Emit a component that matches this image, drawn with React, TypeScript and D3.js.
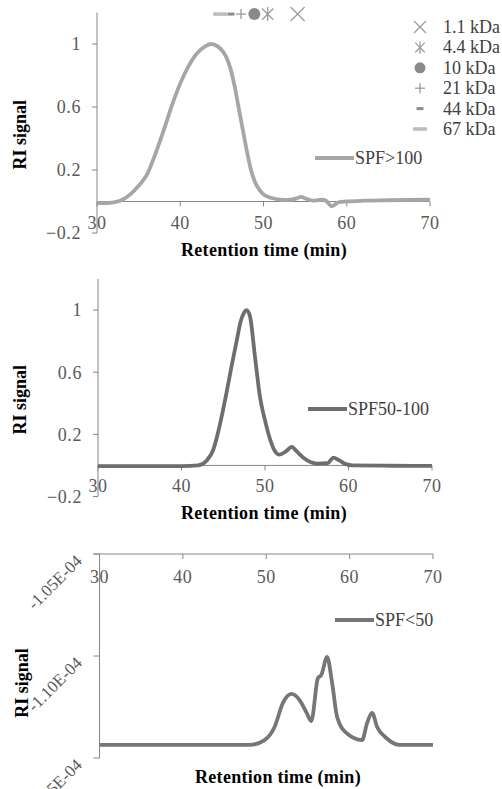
import React from "react";
import * as d3 from "d3";

// ---------- data ----------
const xTicks = [30, 40, 50, 60, 70];
const yTicksNorm = [-0.2, 0.2, 0.6, 1];
const yTicksSmall = [-1.05e-4, -1.1e-4, -1.15e-4];

const spf100Time = [30, 31, 32, 33, 34, 35, 36, 37, 38, 39, 40, 41, 42, 43, 43.7, 44.5, 45, 45.5, 46, 46.5, 47, 47.5, 48, 48.5, 49, 49.5, 50, 51, 52, 53, 54, 54.5, 55, 56, 57, 57.5, 58.2, 59, 60, 62, 65, 70];
const spf100Value = [-0.01, -0.01, -0.005, 0.01, 0.045, 0.1, 0.17, 0.3, 0.45, 0.61, 0.75, 0.86, 0.94, 0.985, 1.0, 0.985, 0.96, 0.92, 0.85, 0.74, 0.6, 0.46, 0.32, 0.2, 0.12, 0.075, 0.045, 0.022, 0.012, 0.01, 0.02, 0.03, 0.02, 0.005, 0.012, 0.005, -0.03, -0.005, 0.0, 0.005, 0.008, 0.012];

const spf50Time = [30, 35, 40, 42, 43, 43.8, 44.5, 45.4, 46, 46.6, 47.1, 47.5, 47.8, 48.2, 48.8, 49.4, 50, 50.6, 51.1, 51.7, 52.5, 53.2, 53.8, 54.6, 55.5, 56.2, 57.5, 58.2, 58.8, 59.6, 60.5, 65, 70];
const spf50Value = [-0.005, -0.005, -0.005, 0.0, 0.03, 0.1, 0.24, 0.47, 0.64, 0.8, 0.93, 0.985, 1.0, 0.96, 0.7, 0.44, 0.29, 0.17, 0.1, 0.07, 0.09, 0.12, 0.09, 0.05, 0.02, 0.012, 0.015, 0.05, 0.035, 0.01, 0.0, -0.002, -0.003];

const spfLowTime = [30, 40, 48, 49.8, 51, 52, 53, 54, 54.8, 55.4, 56.2, 56.6, 57.3, 57.9, 58.5, 59.6, 61.5, 62.1, 62.7, 63.3, 64.4, 66, 70];
const spfLowValue = [-1.1436e-4, -1.1436e-4, -1.1436e-4, -1.1412e-4, -1.1348e-4, -1.123e-4, -1.1186e-4, -1.1216e-4, -1.1275e-4, -1.1319e-4, -1.1108e-4, -1.1093e-4, -1.1005e-4, -1.1132e-4, -1.1299e-4, -1.1377e-4, -1.1412e-4, -1.1328e-4, -1.1279e-4, -1.1348e-4, -1.1402e-4, -1.1436e-4, -1.1436e-4];

const markerNames = ["1.1 kDa", "4.4 kDa", "10 kDa", "21 kDa", "44 kDa", "67 kDa"];
const markerTimes = [54.1, 50.5, 48.9, 47.3, 46.1, 44.8];
const markerLevel = 1.19;

const seriesNames = ["SPF>100", "SPF50-100", "SPF<50"];

// ---------- styles ----------
const FONT = "Liberation Serif";
const AXIS = "#868686";
const TICKTXT = "#595959";
const C1 = "#a6a6a6";
const C2 = "#6e6e6e";
const C3 = "#767676";
const TS = 18; // tick font size
const TLS = 0.6; // tick letter spacing

function fmtE(v: number) {
  const s = v.toExponential(2);
  const [m, e] = s.split("e");
  const n = parseInt(e, 10);
  const sign = n < 0 ? "-" : "+";
  const abs = Math.abs(n).toString().padStart(2, "0");
  return `${m}E${sign}${abs}`;
}

function Marker({ idx, x, y, legend }: { idx: number; x: number; y: number; legend?: boolean }) {
  const s = legend ? 6 : 7;
  switch (idx) {
    case 0:
      return (
        <g stroke="#9c9c9c" strokeWidth={1.3}>
          <line x1={x - s} y1={y - s} x2={x + s} y2={y + s} />
          <line x1={x - s} y1={y + s} x2={x + s} y2={y - s} />
        </g>
      );
    case 1:
      return (
        <g stroke="#9c9c9c" strokeWidth={1.3}>
          <line x1={x - s * 0.8} y1={y - s * 0.8} x2={x + s * 0.8} y2={y + s * 0.8} />
          <line x1={x - s * 0.8} y1={y + s * 0.8} x2={x + s * 0.8} y2={y - s * 0.8} />
          <line x1={x} y1={y - s} x2={x} y2={y + s} />
        </g>
      );
    case 2:
      return <circle cx={x} cy={y} r={legend ? 5.5 : 6} fill="#8a8a8a" />;
    case 3:
      return (
        <g stroke="#9a9a9a" strokeWidth={1.3}>
          <line x1={x - 5} y1={y} x2={x + 5} y2={y} />
          <line x1={x} y1={y - 5} x2={x} y2={y + 5} />
        </g>
      );
    case 4:
      return <rect x={x - 3.5} y={y - 1.5} width={7} height={3} fill="#8c8c8c" />;
    default:
      return <rect x={x - 7} y={y - 1.8} width={14} height={3.6} fill="#bdbdbd" />;
  }
}

function NormPanel({
  time, value, color, name, x0, x1, yBottom, yTop, titleY, legendX, legendY, showMarkers,
}: any) {
  const x = d3.scaleLinear().domain([30, 70]).range([x0, x1]);
  const y = d3.scaleLinear().domain([-0.2, 1.2]).range([yBottom, yTop]);
  const line = d3.line<number>().x((_, i) => x(time[i])).y((d) => y(d)).curve(d3.curveMonotoneX);
  const y0 = y(0);
  return (
    <g>
      <line x1={x0} x2={x0} y1={yTop} y2={yBottom} stroke={AXIS} />
      {yTicksNorm.map((t) => (
        <g key={t}>
          <line x1={x0 - 5} x2={x0} y1={y(t)} y2={y(t)} stroke={AXIS} />
          <text x={x0 - 16} y={y(t)} dy="0.35em" textAnchor="end" fontSize={TS} letterSpacing={TLS} fill={TICKTXT} style={{ fontFamily: FONT }}>
            {d3.format("")(t)}
          </text>
        </g>
      ))}
      <line x1={x0} x2={x1} y1={y0} y2={y0} stroke={AXIS} />
      {xTicks.map((t) => (
        <g key={t}>
          <line x1={x(t)} x2={x(t)} y1={y0} y2={y0 + 5} stroke={AXIS} />
          <text x={x(t)} y={y0 + 27} textAnchor="middle" fontSize={TS} letterSpacing={TLS} fill={TICKTXT} style={{ fontFamily: FONT }}>
            {t}
          </text>
        </g>
      ))}
      <text x={264} y={titleY} textAnchor="middle" fontSize={18} letterSpacing={0.3} fontWeight="bold" style={{ fontFamily: FONT }} fill="#000">
        Retention time (min)
      </text>
      <text transform={`translate(26, ${(yTop + yBottom) / 2 + 12}) rotate(-90)`} textAnchor="middle" fontSize={18} fontWeight="bold" style={{ fontFamily: FONT }} fill="#000">
        RI signal
      </text>
      <path d={line(value) || ""} fill="none" stroke={color} strokeWidth={3.8} strokeLinejoin="round" />
      <line x1={legendX} x2={legendX + 39} y1={legendY} y2={legendY} stroke={color} strokeWidth={3.8} />
      <text x={legendX + 40} y={legendY + 6} fontSize={18} fill="#404040" style={{ fontFamily: FONT }}>
        {name}
      </text>
      {showMarkers &&
        markerTimes.map((t, i) => <Marker key={i} idx={i} x={x(t)} y={y(markerLevel)} />)}
    </g>
  );
}

function LowPanel() {
  const x0 = 99.5, x1 = 433, yTop = 554, yBottom = 758;
  const x = d3.scaleLinear().domain([30, 70]).range([x0, x1]);
  const y = d3.scaleLinear().domain([-1.15e-4, -1.05e-4]).range([yBottom, yTop]);
  const line = d3.line<number>().x((_, i) => x(spfLowTime[i])).y((d) => y(d)).curve(d3.curveMonotoneX);
  return (
    <g>
      <line x1={x0} x2={x0} y1={yTop} y2={yBottom} stroke={AXIS} />
      {yTicksSmall.map((t) => (
        <g key={t}>
          <line x1={x0 - 6} x2={x0} y1={y(t)} y2={y(t)} stroke={AXIS} />
          <text transform={`translate(83, ${y(t) + 8}) rotate(-45)`} textAnchor="end" fontSize={17} fill={TICKTXT} style={{ fontFamily: FONT }}>
            {fmtE(t)}
          </text>
        </g>
      ))}
      <line x1={x0 - 6} x2={x1} y1={yTop} y2={yTop} stroke={AXIS} />
      {xTicks.map((t) => (
        <g key={t}>
          <line x1={x(t)} x2={x(t)} y1={yTop} y2={yTop + 5} stroke={AXIS} />
          <text x={x(t)} y={yTop + 29} textAnchor="middle" fontSize={TS} letterSpacing={TLS} fill={TICKTXT} style={{ fontFamily: FONT }}>
            {t}
          </text>
        </g>
      ))}
      <text x={278} y={783} textAnchor="middle" fontSize={18} letterSpacing={0.3} fontWeight="bold" style={{ fontFamily: FONT }} fill="#000">
        Retention time (min)
      </text>
      <text transform={`translate(28, 683) rotate(-90)`} textAnchor="middle" fontSize={18} fontWeight="bold" style={{ fontFamily: FONT }} fill="#000">
        RI signal
      </text>
      <path d={line(spfLowValue) || ""} fill="none" stroke={C3} strokeWidth={3.8} strokeLinejoin="round" />
      <line x1={335} x2={374} y1={620} y2={620} stroke={C3} strokeWidth={3.8} />
      <text x={375} y={626} fontSize={18} fill="#404040" style={{ fontFamily: FONT }}>
        {seriesNames[2]}
      </text>
    </g>
  );
}

export default function App() {
  return (
    <div style={{ position: "absolute", left: 0, top: 0 }}>
      <svg width={502} height={789} style={{ display: "block", background: "#fff" }}>
        <NormPanel
          time={spf100Time} value={spf100Value} color={C1} name={seriesNames[0]}
          x0={97} x1={430} yBottom={233} yTop={12.5} titleY={256}
          legendX={315} legendY={158} showMarkers
        />
        <NormPanel
          time={spf50Time} value={spf50Value} color={C2} name={seriesNames[1]}
          x0={98} x1={432} yBottom={496.5} yTop={279} titleY={519}
          legendX={308} legendY={409} showMarkers={false}
        />
        <LowPanel />
        {markerNames.map((n, i) => {
          const ly = 27 + i * 20.4;
          return (
            <g key={n}>
              <Marker idx={i} x={420} y={ly} legend />
              <text x={443} y={ly + 6} fontSize={18} fill="#404040" style={{ fontFamily: FONT }}>
                {n}
              </text>
            </g>
          );
        })}
      </svg>
    </div>
  );
}
